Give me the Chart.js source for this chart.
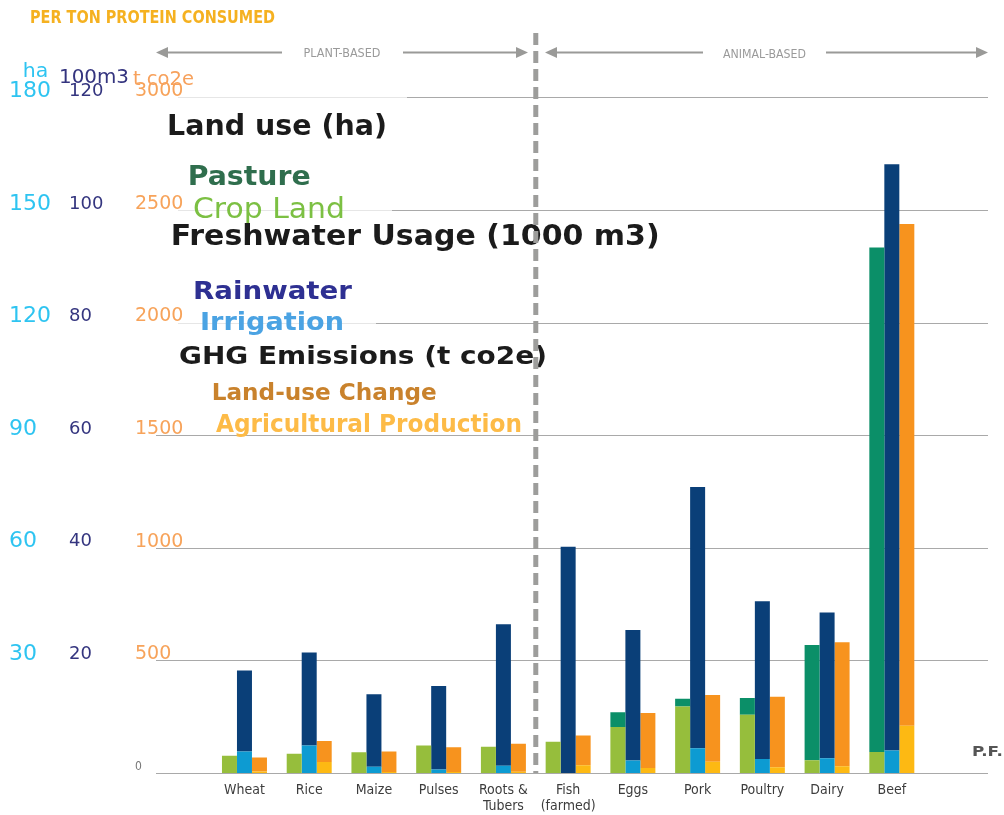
<!DOCTYPE html>
<html>
<head>
<meta charset="utf-8">
<script src="https://cdn.jsdelivr.net/npm/chart.js@4"></script>
<style>
  html, body { margin: 0; padding: 0; background: #ffffff; }
  #wrap { width: 1004px; height: 815px; position: relative; }
  canvas { display: block; }
</style>
</head>
<body>
<div id="wrap"><canvas id="c" width="1004" height="815"></canvas></div>
<script>
// ---------- data ----------
const categories = [['Wheat'], ['Rice'], ['Maize'], ['Pulses'], ['Roots &', 'Tubers'], ['Fish', '(farmed)'], ['Eggs'], ['Pork'], ['Poultry'], ['Dairy'], ['Beef']];

// Land use (ha)
const cropLandHa = [4.6, 5.1, 5.5, 7.35, 7.0, 8.3, 12.25, 17.7, 15.5, 3.4, 5.6];
const pastureHa  = [0, 0, 0, 0, 0, 0, 3.9, 2.1, 4.5, 30.7, 134.4];

// Freshwater usage (100 m3 axis)
const irrigationW = [3.8, 4.9, 1.1, 0.64, 1.3, 0, 2.2, 4.4, 2.5, 2.6, 4.0];
const rainwaterW  = [14.4, 16.5, 12.9, 14.8, 25.1, 40.2, 23.2, 46.4, 28.0, 25.9, 104.1];

// GHG emissions (t co2e)
const agriProductionT = [7, 49, 4, 4, 6, 34, 22, 50, 25, 30, 210];
const landUseChangeT  = [62, 93, 92, 110, 124, 133, 244, 296, 314, 550, 2227];

// axis ticks
const haTicks = { max: 180, step: 30 };
const waterTicks = { max: 120, step: 20 };
const ghgTicks = { max: 3000, step: 500 };

// ---------- helpers ----------
function fitText(ctx, text, x, y, w, font, color) {
  ctx.save();
  ctx.font = font;
  ctx.fillStyle = color;
  ctx.textBaseline = 'alphabetic';
  ctx.textAlign = 'left';
  const m = ctx.measureText(text).width;
  ctx.translate(x, y);
  ctx.scale(w / m, 1);
  ctx.fillText(text, 0, 0);
  ctx.restore();
}
function arrowLine(ctx, x1, x2, y, tipLeft, tipRight) {
  ctx.save();
  ctx.strokeStyle = '#9a9a98';
  ctx.fillStyle = '#9a9a98';
  ctx.lineWidth = 2;
  ctx.beginPath();
  ctx.moveTo(x1 + (tipLeft ? 8 : 0), y);
  ctx.lineTo(x2 - (tipRight ? 8 : 0), y);
  ctx.stroke();
  if (tipLeft) {
    ctx.beginPath(); ctx.moveTo(x1, y); ctx.lineTo(x1 + 12, y - 5.5); ctx.lineTo(x1 + 12, y + 5.5); ctx.closePath(); ctx.fill();
  }
  if (tipRight) {
    ctx.beginPath(); ctx.moveTo(x2, y); ctx.lineTo(x2 - 12, y - 5.5); ctx.lineTo(x2 - 12, y + 5.5); ctx.closePath(); ctx.fill();
  }
  ctx.restore();
}

const COND = '"Liberation Sans Narrow", "DejaVu Sans Condensed", "Roboto", sans-serif';
const DJ = '"DejaVu Sans", Verdana, sans-serif';

// gridlines across a wider span than the chart area
const gridPlugin = {
  id: 'gridPlugin',
  beforeDatasetsDraw(chart) {
    const ctx = chart.ctx;
    const s = chart.scales.yGhg;
    const startNormal = { 3000: 407, 2500: 392, 2000: 376 };
    ctx.save();
    s.ticks.forEach(t => {
      const y = Math.round(s.getPixelForValue(t.value)) + 0.5;
      const xs = startNormal[t.value] || 156;
      if (startNormal[t.value]) {
        ctx.strokeStyle = '#e6e6e6';
        ctx.lineWidth = 1.2;
        ctx.beginPath(); ctx.moveTo(178, y); ctx.lineTo(xs, y); ctx.stroke();
      }
      ctx.strokeStyle = '#a9a9a9';
      ctx.lineWidth = 1.2;
      ctx.beginPath(); ctx.moveTo(xs, y); ctx.lineTo(988, y); ctx.stroke();
    });
    ctx.restore();
  }
};

const decorPlugin = {
  id: 'decorPlugin',
  afterDraw(chart) {
    const ctx = chart.ctx;
    // title
    fitText(ctx, 'PER TON PROTEIN CONSUMED', 30, 22.7, 245, 'bold 17.5px "DejaVu Sans Condensed", ' + DJ, '#F5B120');
    // axis unit headers
    fitText(ctx, 'ha', 22.7, 77, 25.5, '20px ' + DJ, '#2EC4F1');
    fitText(ctx, '100m3', 59, 82.5, 70, '19px ' + DJ, '#34347F');
    fitText(ctx, 't co2e', 133, 85, 61, '19px ' + DJ, '#F7A15C');
    // section headers
    arrowLine(ctx, 156, 282, 52.5, true, false);
    arrowLine(ctx, 403, 528, 52.5, false, true);
    fitText(ctx, 'PLANT-BASED', 303.5, 56.8, 77, '13px ' + COND, '#9a9a9a');
    arrowLine(ctx, 545, 703, 52.5, true, false);
    arrowLine(ctx, 826, 988, 52.5, false, true);
    fitText(ctx, 'ANIMAL-BASED', 723, 58, 83, '13px ' + COND, '#9a9a9a');

    // legend block
    fitText(ctx, 'Land use (ha)', 167, 135, 220, 'bold 29px ' + DJ, '#1b1b1b');
    fitText(ctx, 'Pasture', 187.7, 185, 123, 'bold 27px ' + DJ, '#2F6E4D');
    fitText(ctx, 'Crop Land', 193, 218.3, 152, '29px ' + DJ, '#7CC043');
    fitText(ctx, 'Freshwater Usage (1000 m3)', 170.7, 245, 489, 'bold 27.5px ' + DJ, '#1b1b1b');
    fitText(ctx, 'Rainwater', 193, 298.5, 159, 'bold 25px ' + DJ, '#2E3092');
    fitText(ctx, 'Irrigation', 200, 330, 144, 'bold 25px ' + DJ, '#4BA3E3');
    fitText(ctx, 'GHG Emissions (t co2e)', 179, 364, 368, 'bold 25px ' + DJ, '#1b1b1b');
    fitText(ctx, 'Land-use Change', 211.7, 400, 225, 'bold 23px ' + DJ, '#C9822C');
    fitText(ctx, 'Agricultural Production', 216, 431.7, 306, 'bold 25px ' + DJ, '#FDBB47');

    // dashed divider between plant and animal groups
    const xs = chart.scales.x;
    const xd = (xs.getPixelForValue(4) + xs.getPixelForValue(5)) / 2;
    ctx.save();
    ctx.strokeStyle = '#9d9d9b';
    ctx.lineWidth = 5;
    ctx.setLineDash([12, 6]);
    ctx.beginPath(); ctx.moveTo(xd, 33); ctx.lineTo(xd, chart.chartArea.bottom); ctx.stroke();
    ctx.restore();

    // cut-off source mark at right edge
    fitText(ctx, 'P.F.', 972, 756, 31, 'bold 14px ' + DJ, '#555555');
  }
};

function yAxis(weight, width, t, color, fontSize, offset, zeroLabel) {
  return {
    position: 'left',
    weight: weight,
    stacked: true,
    min: 0,
    max: t.max,
    grid: { display: false, drawTicks: false },
    border: { display: false },
    ticks: {
      stepSize: t.step,
      crossAlign: 'far',
      labelOffset: offset,
      color: (c) => (c.tick && c.tick.value === 0) ? '#777777' : color,
      font: (c) => (c.tick && c.tick.value === 0) ? { family: COND, size: 12 } : { family: DJ, size: fontSize },
      callback: (v) => v === 0 ? (zeroLabel ? '0' : '') : String(v)
    },
    afterFit: (s) => { s.width = width; }
  };
}

const barCommon = { borderWidth: 0, categoryPercentage: 0.695, barPercentage: 1.0 };

new Chart(document.getElementById('c'), {
  type: 'bar',
  data: {
    labels: categories,
    datasets: [
      Object.assign({ label: 'Crop Land', data: cropLandHa, backgroundColor: '#96BE3C', stack: 'land', yAxisID: 'yHa' }, barCommon),
      Object.assign({ label: 'Pasture', data: pastureHa, backgroundColor: '#0B8F68', stack: 'land', yAxisID: 'yHa' }, barCommon),
      Object.assign({ label: 'Irrigation', data: irrigationW, backgroundColor: '#0D9BD2', stack: 'water', yAxisID: 'yWater' }, barCommon),
      Object.assign({ label: 'Rainwater', data: rainwaterW, backgroundColor: '#0A3F78', stack: 'water', yAxisID: 'yWater' }, barCommon),
      Object.assign({ label: 'Agricultural Production', data: agriProductionT, backgroundColor: '#FDB913', stack: 'ghg', yAxisID: 'yGhg' }, barCommon),
      Object.assign({ label: 'Land-use Change', data: landUseChangeT, backgroundColor: '#F7931E', stack: 'ghg', yAxisID: 'yGhg' }, barCommon)
    ]
  },
  options: {
    responsive: false,
    devicePixelRatio: 1,
    animation: false,
    layout: { padding: { left: 9, right: 79.8, top: 97.3, bottom: 0 } },
    plugins: { legend: { display: false }, tooltip: { enabled: false }, title: { display: false } },
    scales: {
      x: {
        grid: { display: false, drawTicks: false },
        border: { display: false },
        ticks: {
          autoSkip: false,
          maxRotation: 0,
          padding: 9,
          color: '#3d3d3d',
          font: { family: COND, size: 14, lineHeight: 1.18 }
        },
        afterFit: (s) => { s.height = 42; }
      },
      yHa: yAxis(3, 60, haTicks, '#2EC4F1', 22, -6, false),
      yWater: yAxis(2, 66, waterTicks, '#34357F', 18, -6, false),
      yGhg: yAxis(1, 77.1, ghgTicks, '#F7A35A', 19, -6, true)
    }
  },
  plugins: [gridPlugin, decorPlugin]
});
</script>
</body>
</html>
